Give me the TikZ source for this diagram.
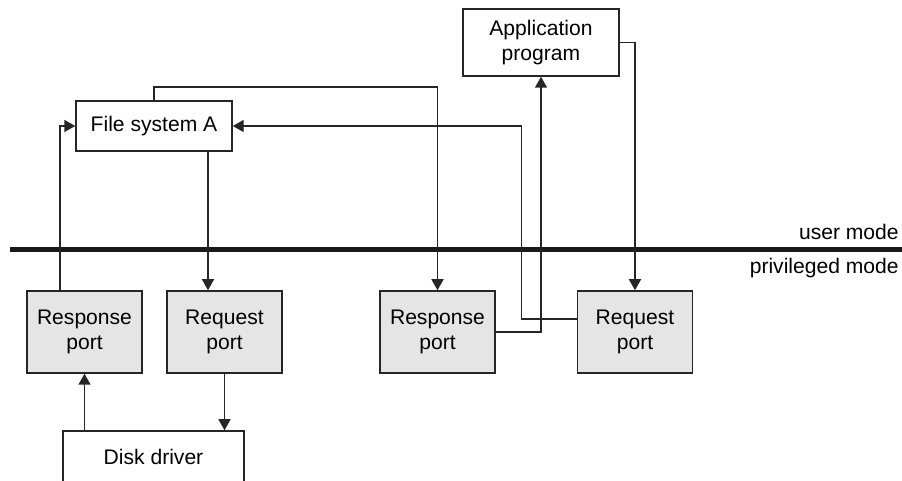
\documentclass[tikz,border=0pt]{standalone}
\usepackage{fontspec}
\setmainfont{Liberation Sans}
\usetikzlibrary{arrows.meta}

\begin{document}
\begin{tikzpicture}[font=\fontsize{12}{14.2}\selectfont,
  box/.style={draw=black!85, line width=0.85pt, align=center, inner sep=0pt},
  procbox/.style={box, fill=white},
  portbox/.style={box, fill=black!10, minimum width=2.3cm, minimum height=1.64cm},
  link/.style={draw=black!85, line width=0.85pt, -{Triangle[length=2.2mm, width=2.4mm]}}]

  \useasboundingbox (0,0) rectangle (18.04,9.62);

  % -- Mode boundary --
  \draw[line width=2.3pt, black!90] (0.2,4.63) -- (18.04,4.63);
  \node[anchor=east, inner sep=0pt] (user) at (17.98,4.98) {user mode};
  \node[anchor=east, inner sep=0pt] (priv) at (17.98,4.26) {privileged mode};

  % -- User side --
  \node[procbox, minimum width=3.12cm, minimum height=1.0cm] (fs) at (3.08,7.10) {File system A};
  \node[procbox, minimum width=3.12cm, minimum height=1.34cm] (app) at (10.82,8.77) {Application\\program};

  % -- Ports --
  \node[portbox] (respA) at (1.69,2.98) {Response\\port};
  \node[portbox] (reqA) at (4.49,2.98) {Request\\port};
  \node[portbox] (respB) at (8.75,2.98) {Response\\port};
  \node[portbox] (reqB) at (12.70,2.98) {Request\\port};

  % -- Driver --
  \node[procbox, minimum width=3.62cm, minimum height=1.04cm] (disk) at (3.07,0.48) {Disk driver};

  % File system A <-> its ports
  \draw[link] ([xshift=-0.49cm]respA.north) |- (fs.west);
  \draw[link] ([xshift=1.08cm]fs.south) -- ([xshift=1.08cm]fs.south |- reqA.north);
  \draw[link] (reqA.south) -- (reqA.south |- disk.north);
  \draw[link] (disk.north -| respA.south) -- (respA.south);

  % Application <-> file system
  \draw[link] (fs.north) -- ++(0,0.26) -| (respB.north);
  \draw[link] ([yshift=0.26cm]reqB.west) -- ++(-1.11,0) |- (fs.east);
  \draw[link] (respB.east) -| (app.south);
  \draw[link] (app.east) -| (reqB.north);

\end{tikzpicture}
\end{document}
